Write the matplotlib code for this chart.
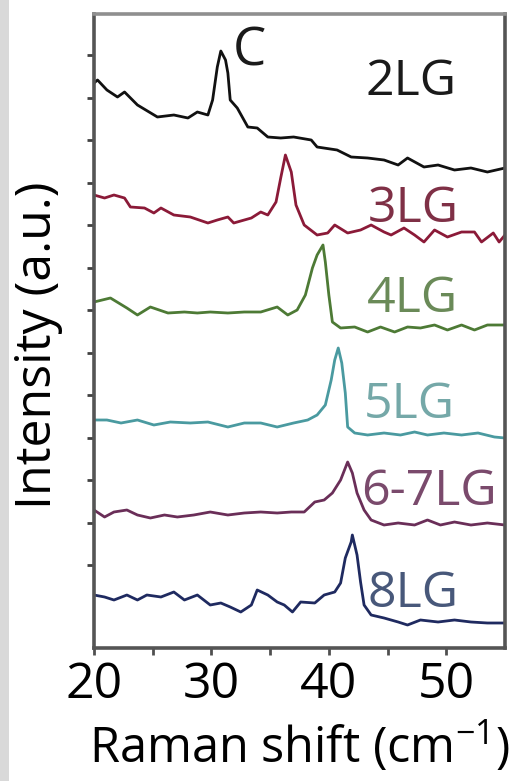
import matplotlib
matplotlib.use('Agg')
import matplotlib.pyplot as plt
from matplotlib.patches import Rectangle

plt.rcParams['font.family'] = ['Open Sans', 'DejaVu Sans']
plt.rcParams['mathtext.fontset'] = 'custom'
plt.rcParams['mathtext.rm'] = 'Open Sans'
plt.rcParams['mathtext.default'] = 'regular'

# spectra (already offset for stacking)
x_2lg = [20.0, 20.3, 21.1, 22.0, 22.6, 23.7, 25.4, 26.8, 28.0, 28.8, 29.7, 30.1, 30.5, 30.8, 31.2, 31.4, 31.6,
         32.2, 33.1, 33.9, 34.8, 35.9, 37.0, 38.5, 39.0, 40.7, 41.9, 43.3, 44.7, 45.9, 46.7, 48.1, 49.3,
         50.7, 52.1, 53.5, 55.0]
y_2lg = [5.65, 5.68, 5.58, 5.51, 5.56, 5.43, 5.31, 5.33, 5.30, 5.36, 5.33, 5.48, 5.81, 5.97, 5.88, 5.75, 5.48,
         5.40, 5.21, 5.20, 5.11, 5.10, 5.11, 5.08, 5.01, 4.98, 4.91, 4.90, 4.88, 4.83, 4.90, 4.81, 4.83,
         4.78, 4.80, 4.76, 4.80]

x_3lg = [20.0, 20.9, 21.7, 22.6, 23.1, 24.3, 25.1, 25.7, 26.8, 28.2, 29.7, 30.5, 31.4, 31.9, 33.4, 34.2, 34.8,
         35.5, 35.9, 36.3, 36.8, 37.2, 37.9, 39.0, 39.9, 40.5, 41.6, 42.7, 43.6, 44.7, 45.3, 46.4, 47.3,
         48.1, 49.0, 50.1, 51.3, 52.4, 53.0, 54.0, 54.5, 55.0]
y_3lg = [4.53, 4.50, 4.53, 4.50, 4.41, 4.40, 4.35, 4.40, 4.33, 4.31, 4.25, 4.28, 4.31, 4.25, 4.30, 4.36, 4.33,
         4.46, 4.70, 4.93, 4.76, 4.43, 4.23, 4.13, 4.15, 4.23, 4.15, 4.18, 4.23, 4.16, 4.13, 4.20, 4.13,
         4.06, 4.18, 4.11, 4.16, 4.16, 4.06, 4.15, 4.06, 4.13]

x_4lg = [20.0, 21.4, 22.8, 23.7, 24.8, 26.3, 27.7, 28.8, 29.9, 31.4, 32.8, 34.2, 35.6, 36.5, 37.3, 38.0, 38.6,
         39.0, 39.5, 39.7, 40.0, 40.3, 41.0, 42.2, 43.3, 44.4, 45.6, 46.7, 47.8, 49.0, 50.1, 51.3, 52.4,
         53.5, 55.0]
y_4lg = [3.46, 3.50, 3.40, 3.33, 3.41, 3.35, 3.36, 3.35, 3.36, 3.35, 3.36, 3.36, 3.41, 3.33, 3.38, 3.53, 3.80,
         3.93, 4.03, 3.86, 3.53, 3.26, 3.20, 3.21, 3.16, 3.21, 3.16, 3.21, 3.20, 3.23, 3.18, 3.23, 3.18,
         3.23, 3.23]

x_5lg = [20.0, 21.1, 22.3, 23.7, 25.1, 26.5, 28.2, 29.7, 31.4, 32.8, 34.2, 35.6, 37.0, 38.2, 39.0, 39.7, 40.2,
         40.5, 40.8, 41.1, 41.4, 41.6, 42.2, 43.3, 44.7, 46.1, 47.3, 48.4, 49.8, 51.3, 52.7, 54.1, 55.0]
y_5lg = [2.28, 2.28, 2.25, 2.28, 2.23, 2.26, 2.25, 2.26, 2.21, 2.25, 2.25, 2.21, 2.25, 2.28, 2.33, 2.43, 2.68,
         2.88, 3.00, 2.85, 2.55, 2.21, 2.15, 2.13, 2.15, 2.13, 2.16, 2.13, 2.15, 2.13, 2.15, 2.11, 2.10]

x_67lg = [20.0, 20.9, 21.7, 22.8, 23.7, 24.8, 26.0, 27.1, 28.5, 29.9, 31.4, 32.8, 34.2, 35.6, 36.8, 37.9, 38.8,
          39.6, 40.3, 41.0, 41.6, 42.0, 42.4, 43.0, 43.6, 44.7, 45.9, 47.3, 48.4, 49.5, 50.7, 52.1, 53.5, 55.0]
y_67lg = [1.38, 1.31, 1.36, 1.38, 1.33, 1.30, 1.33, 1.31, 1.33, 1.36, 1.33, 1.35, 1.36, 1.35, 1.36, 1.36, 1.46,
          1.48, 1.55, 1.68, 1.86, 1.75, 1.55, 1.38, 1.28, 1.23, 1.25, 1.23, 1.28, 1.23, 1.26, 1.23, 1.25, 1.23]

x_8lg = [20.0, 20.9, 21.7, 22.8, 23.7, 24.5, 25.7, 26.8, 27.7, 28.8, 29.9, 30.8, 31.6, 32.5, 33.4, 33.9, 34.8,
         35.6, 36.2, 36.9, 37.6, 38.8, 39.6, 40.5, 41.0, 41.4, 41.9, 42.0, 42.4, 42.7, 43.0, 43.6, 44.7,
         45.9, 46.7, 47.8, 49.3, 50.7, 52.1, 53.5, 55.0]
y_8lg = [0.53, 0.51, 0.48, 0.53, 0.48, 0.53, 0.51, 0.56, 0.48, 0.53, 0.43, 0.45, 0.41, 0.36, 0.43, 0.58, 0.53,
         0.46, 0.43, 0.36, 0.46, 0.45, 0.53, 0.56, 0.65, 0.90, 1.06, 1.13, 0.93, 0.66, 0.43, 0.33, 0.30,
         0.26, 0.23, 0.28, 0.26, 0.28, 0.26, 0.25, 0.25]

labels = ['2LG', '3LG', '4LG', '5LG', '6-7LG', '8LG']
line_colors = ['#111111', '#8b1a38', '#4d7a35', '#4a9aa0', '#6a2e58', '#1f2a60']
text_colors = ['#1a1a1a', '#7f3046', '#6a8a58', '#75a8a8', '#7a4a6c', '#48587a']
label_x = [43.1, 43.3, 43.25, 43.0, 42.75, 43.25]
label_y = [5.53, 4.26, 3.36, 2.30, 1.43, 0.41]

fig = plt.figure(figsize=(5.26, 7.81), dpi=100)
fig.patches.append(Rectangle((0, 0), 9 / 526, 1, transform=fig.transFigure,
                             facecolor='#d9d9d9', edgecolor='none', zorder=0))
ax = fig.add_axes([94 / 526, 133 / 781, 411 / 526, 634 / 781])

spectra = [(x_2lg, y_2lg), (x_3lg, y_3lg), (x_4lg, y_4lg),
           (x_5lg, y_5lg), (x_67lg, y_67lg), (x_8lg, y_8lg)]
for (xs, ys), c in zip(spectra, line_colors):
    ax.plot(xs, ys, color=c, lw=2.0)

for lab, lx, ly, tc in zip(labels, label_x, label_y, text_colors):
    ax.text(lx, ly, lab, color=tc, fontsize=36, ha='left', va='baseline')
ax.text(31.85, 5.83, 'C', color='#1a1a1a', fontsize=38, ha='left', va='baseline')

ax.set_xlim(20, 55)
ax.set_ylim(0, 6.34)
ax.set_xticks([20, 30, 40, 50])
ax.set_xticks([25, 35, 45], minor=True)
ax.set_yticks([5.93 - 0.85 * i for i in range(7)])
ax.set_yticks([5.505 - 0.85 * i for i in range(6)], minor=True)
ax.set_yticklabels([])
ax.tick_params(axis='x', which='both', direction='out', length=5, width=2, color='#505050',
               labelsize=36, pad=4)
ax.tick_params(axis='y', which='both', direction='out', length=5, width=2, color='#404040')

for s in ['left', 'bottom', 'right']:
    ax.spines[s].set_color('#555555')
    ax.spines[s].set_linewidth(2.6)
ax.spines['top'].set_color('#8f8f8f')
ax.spines['top'].set_linewidth(2.6)

ax.set_xlabel('Raman shift (cm$^{-1}$)', fontsize=35)
ax.xaxis.set_label_coords(0.5, -0.112)
ax.set_ylabel('Intensity (a.u.)', fontsize=36)
ax.yaxis.set_label_coords(-0.075, 0.478)

fig.savefig('out.png', dpi=100)
